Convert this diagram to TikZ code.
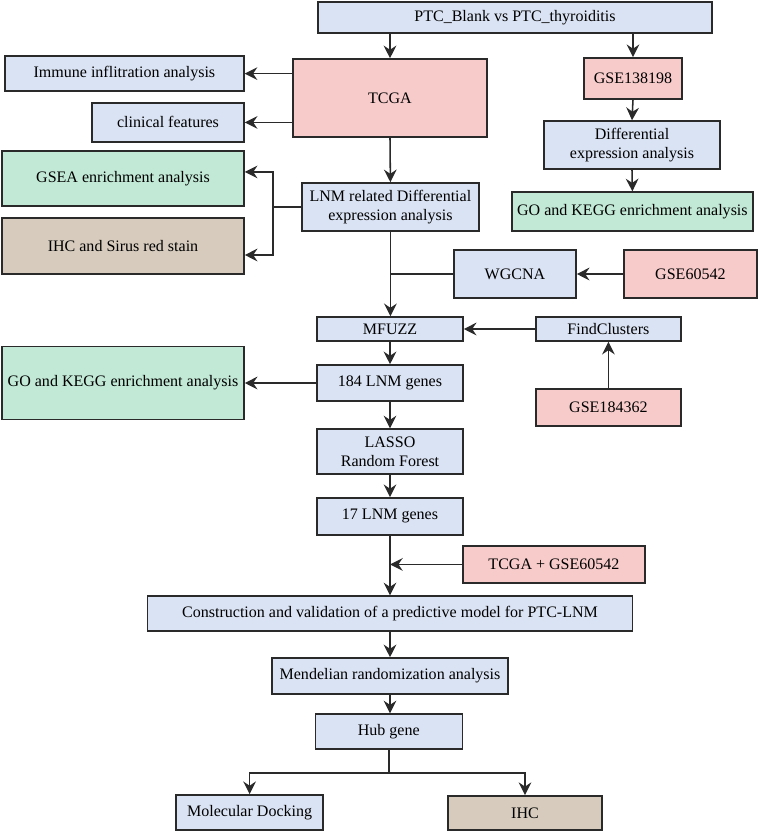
\documentclass[tikz,border=0pt]{standalone}
\usepackage{fontspec}
\setmainfont{Liberation Serif}
\usepackage{xcolor}
\usetikzlibrary{arrows.meta}

\definecolor{anafill}{HTML}{DAE3F3}
\definecolor{datafill}{HTML}{F8CBCB}
\definecolor{enrfill}{HTML}{C1E9D6}
\definecolor{labfill}{HTML}{D6CBBD}
\definecolor{edge}{HTML}{2A2A2A}

\tikzset{
	box/.style={draw=edge, rectangle, align=center, inner sep=1pt, font=\rmfamily\fontsize{11.4}{13.7}\selectfont},
	sz/.style 2 args={minimum width=#1cm, minimum height=#2cm},
	anabox/.style={box, fill=anafill},
	databox/.style={box, fill=datafill},
	enrbox/.style={box, fill=enrfill},
	labbox/.style={box, fill=labfill},
	wire/.style={draw=edge},
	link/.style={wire, ->},
}

\begin{document}
\begin{tikzpicture}[line width=1.1pt, >={Stealth[length=9pt, width=9pt, inset=3pt]}]
			\useasboundingbox (0,0) rectangle (18.975,-20.8);

			% top row
			\node[anabox, sz={9.85}{0.775}] (ptc) at (12.875,-0.44) {PTC\_Blank vs PTC\_thyroiditis};
			\node[databox, sz={4.85}{1.95}] (tcga) at (9.75,-2.45) {TCGA};
			\node[databox, sz={2.45}{1.025}] (g138) at (15.825,-1.96) {GSE138198};
			\node[anabox, sz={5.975}{0.875}] (imm) at (3.11,-1.84) {Immune inflitration analysis};
			\node[anabox, sz={3.8}{0.975}] (clin) at (4.2,-3.06) {clinical features};

			% differential expression
			\node[anabox, sz={4.4}{1.2}] (dea) at (15.8,-3.625) {Differential\\expression analysis};
			\node[enrbox, sz={6.025}{0.975}] (gok1) at (15.81,-5.29) {GO and KEGG enrichment analysis};
			\node[anabox, sz={4.425}{1.2}] (lnmd) at (9.76,-5.175) {LNM related Differential\\expression analysis};
			\node[enrbox, sz={6.05}{1.375}] (gsea) at (3.075,-4.46) {GSEA enrichment analysis};
			\node[labbox, sz={6.05}{1.4}] (ihcs) at (3.075,-6.15) {IHC and Sirus red stain};

			% WGCNA and clustering
			\node[anabox, sz={3.05}{1.2}] (wg) at (12.875,-6.85) {WGCNA};
			\node[databox, sz={3.325}{1.2}] (g605) at (17.26,-6.85) {GSE60542};
			\node[anabox, sz={3.65}{0.6}] (mf) at (9.75,-8.225) {MFUZZ};
			\node[anabox, sz={3.625}{0.6}] (fc) at (15.21,-8.225) {FindClusters};
			\node[databox, sz={3.625}{0.925}] (g184) at (15.21,-10.19) {GSE184362};

			% gene selection
			\node[anabox, sz={3.65}{0.9}] (l184) at (9.75,-9.575) {184 LNM genes};
			\node[enrbox, sz={6.05}{1.825}] (gok2) at (3.075,-9.575) {GO and KEGG enrichment analysis};
			\node[anabox, sz={3.65}{1.125}] (lasso) at (9.75,-11.29) {LASSO\\Random Forest};
			\node[anabox, sz={3.65}{0.925}] (l17) at (9.75,-12.91) {17 LNM genes};
			\node[databox, sz={4.55}{0.925}] (tg) at (13.85,-14.11) {TCGA + GSE60542};

			% model and hub gene
			\node[anabox, sz={12.125}{0.875}] (con) at (9.75,-15.34) {Construction and validation of a predictive model for PTC-LNM};
			\node[anabox, sz={5.9}{0.9}] (mr) at (9.75,-16.9) {Mendelian randomization analysis};
			\node[anabox, sz={3.675}{0.875}] (hub) at (9.72,-18.29) {Hub gene};
			\node[anabox, sz={3.675}{0.875}] (dock) at (6.24,-20.31) {Molecular Docking};
			\node[labbox, sz={3.85}{0.85}] (ihc) at (13.125,-20.32) {IHC};

			\draw[link] (tcga.north |- ptc.south) to (tcga.north);
			\draw[link] (g138.north |- ptc.south) to (g138.north);
			\draw[link] (tcga.west |- imm.east) to (imm.east);
			\draw[link] (tcga.west |- clin.east) to (clin.east);
			\draw[link] (tcga.south) to (lnmd.north);
			\draw[link] (g138.south) to (dea.north);
			\draw[link] (dea.south) to (gok1.north);

			\draw[wire] (lnmd.west) -- ++(-0.7,0) coordinate (sp);
			\draw[link] (sp) |- ([yshift=4.6pt]gsea.east);
			\draw[link] (sp) |- ([yshift=-6.4pt]ihcs.east);

			\draw[link] (lnmd.south) to (lnmd.south |- mf.north);
			\draw[wire] (wg.west) to (wg.west -| lnmd.south);
			\draw[link] (g605.west) to (wg.east);
			\draw[link] (fc.west) to (mf.east);
			\draw[link] (g184.north) to (fc.south);

			\draw[link] (mf.south) to (l184.north);
			\draw[link] (l184.west) to (l184.west -| gok2.east);
			\draw[link] (l184.south) to (lasso.north);
			\draw[link] (lasso.south) to (l17.north);
			\draw[link] (l17.south) to (con.north);
			\draw[link] (tg.west) to (tg.west -| l17.south);

			\draw[link] (con.south) to (mr.north);
			\draw[link] (mr.south) to (mr.south |- hub.north);
			\draw[wire] (hub.south) -- ++(0,-0.575) coordinate (br);
			\draw[link] (br) -| (dock.north);
			\draw[link] (br) -| (ihc.north);
		\end{tikzpicture}
\end{document}
